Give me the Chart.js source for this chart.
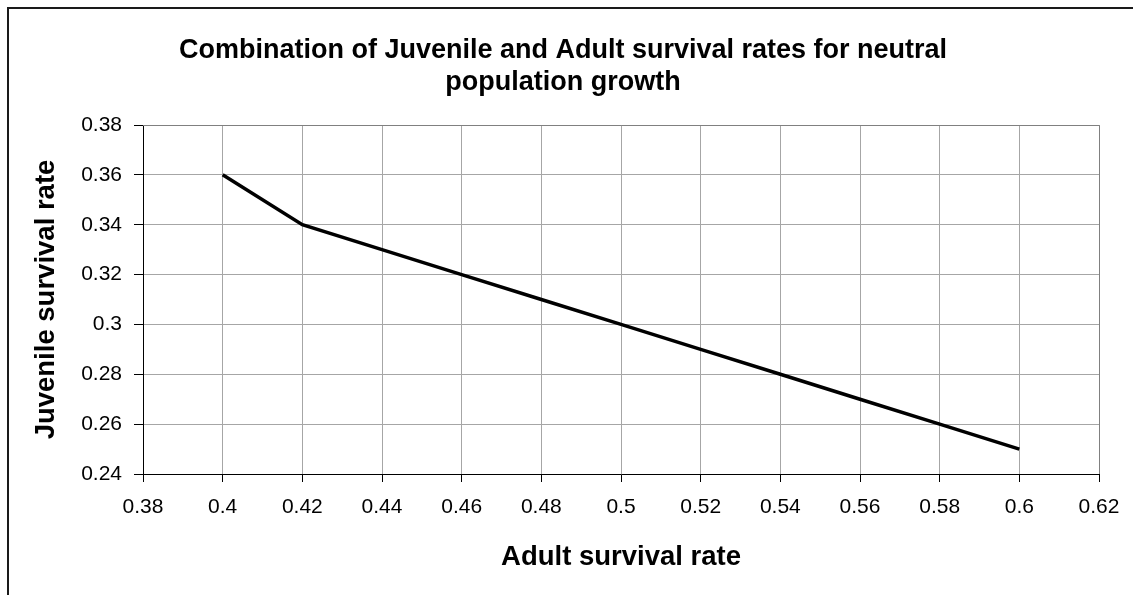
<!DOCTYPE html>
<html>
<head>
<meta charset="utf-8">
<title>Combination of Juvenile and Adult survival rates</title>
<script src="https://cdn.jsdelivr.net/npm/chart.js@4/dist/chart.umd.min.js"></script>
<style>
  html, body { margin: 0; padding: 0; background: #fff; }
  #wrap { width: 1133px; height: 595px; }
</style>
</head>
<body>
<div id="wrap"><canvas id="chart" width="1133" height="595"></canvas></div>
<script>
// Adult survival rate (x) and the juvenile survival rate (y) that gives neutral growth
const adultSurvival = [0.40, 0.42, 0.44, 0.46, 0.48, 0.50, 0.52, 0.54, 0.56, 0.58, 0.60];
const juvenileSurvival = [0.36, 0.34, 0.33, 0.32, 0.31, 0.30, 0.29, 0.28, 0.27, 0.26, 0.25];

// Axis ticks and their printed labels
const xTickValues = [0.38, 0.40, 0.42, 0.44, 0.46, 0.48, 0.50, 0.52, 0.54, 0.56, 0.58, 0.60, 0.62];
const xTickLabels = ['0.38', '0.4', '0.42', '0.44', '0.46', '0.48', '0.5', '0.52', '0.54', '0.56', '0.58', '0.6', '0.62'];
const yTickValues = [0.24, 0.26, 0.28, 0.30, 0.32, 0.34, 0.36, 0.38];
const yTickLabels = ['0.24', '0.26', '0.28', '0.3', '0.32', '0.34', '0.36', '0.38'];

const chartTitle = ['Combination of Juvenile and Adult survival rates for neutral', 'population growth'];
const xTitle = 'Adult survival rate';
const yTitle = 'Juvenile survival rate';

const FONT = '"Liberation Sans", Arial, sans-serif';
const GRID = '#a6a6a6';

// Outer frame of the chart and the grey frame round the plot area
const framePlugin = {
  id: 'frames',
  beforeDraw(chart) {
    const ctx = chart.ctx;
    ctx.save();
    ctx.fillStyle = '#fff';
    ctx.fillRect(0, 0, chart.width, chart.height);
    ctx.strokeStyle = '#1a1a1a';
    ctx.lineWidth = 2;
    ctx.strokeRect(8, 8, chart.width + 40, chart.height + 40);
    ctx.restore();
  },
  afterDatasetsDraw(chart) {
    const { ctx, chartArea: a } = chart;
    ctx.save();
    ctx.strokeStyle = '#808080';
    ctx.lineWidth = 1;
    ctx.beginPath();
    ctx.moveTo(a.left, a.top + 0.5);
    ctx.lineTo(a.right + 0.5, a.top + 0.5);
    ctx.lineTo(a.right + 0.5, a.bottom);
    ctx.stroke();
    ctx.restore();
  }
};

const points = adultSurvival.map((x, i) => ({ x, y: juvenileSurvival[i] }));

new Chart(document.getElementById('chart'), {
  type: 'scatter',
  data: {
    datasets: [{
      data: points,
      showLine: true,
      borderColor: '#000',
      borderWidth: 3.5,
      pointRadius: 0,
      pointHoverRadius: 0,
      fill: false,
      tension: 0
    }]
  },
  options: {
    responsive: false,
    devicePixelRatio: 1,
    animation: false,
    events: [],
    layout: { padding: { left: 27, right: 34, top: 10, bottom: 0 } },
    plugins: {
      legend: { display: false },
      tooltip: { enabled: false },
      title: {
        display: true,
        text: chartTitle,
        color: '#000',
        font: { family: FONT, size: 27, weight: 'bold', lineHeight: 1.15 },
        padding: { top: 25.5, bottom: 27.4 }
      }
    },
    scales: {
      x: {
        type: 'linear',
        min: 0.38,
        max: 0.62,
        afterBuildTicks(scale) { scale.ticks = xTickValues.map(v => ({ value: v })); },
        afterFit(scale) { scale.height = 121; },
        ticks: {
          color: '#000',
          font: { family: FONT, size: 21 },
          padding: 13,
          maxRotation: 0,
          autoSkip: false,
          callback: (v, i) => xTickLabels[i]
        },
        grid: { color: GRID, lineWidth: 1, tickLength: 8, tickColor: '#000' },
        border: { color: '#000', width: 1 },
        title: {
          display: true,
          text: xTitle,
          color: '#000',
          font: { family: FONT, size: 27.5, weight: 'bold', lineHeight: 1.2 },
          padding: { top: 0, bottom: 21 }
        }
      },
      y: {
        type: 'linear',
        min: 0.24,
        max: 0.38,
        afterBuildTicks(scale) { scale.ticks = yTickValues.map(v => ({ value: v })); },
        afterFit(scale) { scale.width = 116; },
        ticks: {
          color: '#000',
          font: { family: FONT, size: 21 },
          padding: 12,
          autoSkip: false,
          callback: (v, i) => yTickLabels[i]
        },
        grid: { color: GRID, lineWidth: 1, tickLength: 9, tickColor: '#000' },
        border: { color: '#000', width: 1 },
        title: {
          display: true,
          text: yTitle,
          color: '#000',
          font: { family: FONT, size: 27.5, weight: 'bold', lineHeight: 1.2 },
          padding: { top: 3, bottom: 0 }
        }
      }
    }
  },
  plugins: [framePlugin]
});
</script>
</body>
</html>
